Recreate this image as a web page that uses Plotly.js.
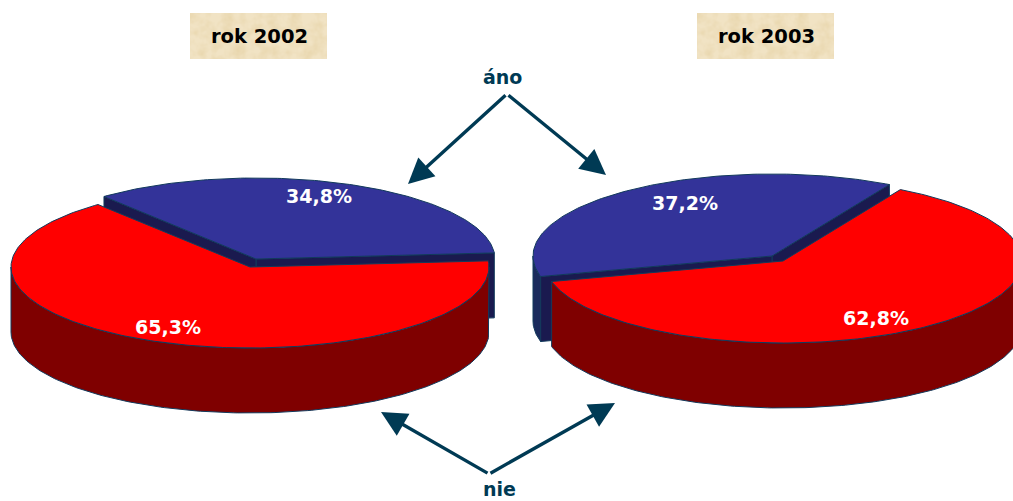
<!DOCTYPE html>
<html>
<head>
<meta charset="utf-8">
<script src="https://cdn.plot.ly/plotly-3.0.1.min.js"></script>
<style>html,body{margin:0;padding:0;background:#fff;overflow:hidden}#chart{width:1013px;height:501px}</style>
</head>
<body>
<div id="chart"></div>
<script>
// Data
var categories = ['áno', 'nie'];
var years = ['rok 2002', 'rok 2003'];
var share2002 = [34.8, 65.3];
var share2003 = [37.2, 62.8];

// Styles
var FONT = '"DejaVu Sans", sans-serif';
var INK = '#003a54';
var EDGE = '#123a5c';
var TOP = {'áno': '#333399', 'nie': '#ff0000'};
var WALL = {'áno': '#1a2a5c', 'nie': '#7f0000'};
var CUT = '#1a1a4f';

// Projection of each pie: a tilted disc (pixels on hidden axes)
var pies = [
  {values: share2002, startDeg: 129.5, rx: 239, ry: 81, depth: 65,
   centers: {'áno': [256, 259], 'nie': [250, 267]}},
  {values: share2003, startDeg: 194.5, rx: 239, ry: 82, depth: 65,
   centers: {'áno': [772, 256], 'nie': [783, 261]}}
];

function rim(c, p, deg, dy) {
  var t = deg * Math.PI / 180;
  return [c[0] + p.rx * Math.cos(t), c[1] - p.ry * Math.sin(t) + (dy || 0)];
}
function poly(pts, color, lineColor) {
  return {
    type: 'scatter', mode: 'lines', hoverinfo: 'skip', showlegend: false, fill: 'toself',
    x: pts.map(function (q) { return q[0]; }),
    y: pts.map(function (q) { return q[1]; }),
    fillcolor: color, line: {color: lineColor || EDGE, width: 1}
  };
}
function arc(c, p, a, b, dy) {
  var out = [], n = Math.max(2, Math.ceil(Math.abs(b - a)));
  for (var i = 0; i <= n; i++) out.push(rim(c, p, a + (b - a) * i / n, dy));
  return out;
}
// Outer wall: only the part of the rim turned towards the viewer (180..360 deg)
function wall(c, p, a, b) {
  var lo = Math.max(a, 180), hi = Math.min(b, 360);
  if (hi <= lo) return null;
  return arc(c, p, lo, hi, 0).concat(arc(c, p, hi, lo, p.depth));
}

var traces = [];
pies.forEach(function (p) {
  var total = p.values[0] + p.values[1];
  var blueSpan = 360 * p.values[0] / total;
  var redSpan = 360 * p.values[1] / total;
  var aEnd = p.startDeg, aStart = aEnd - blueSpan;          // "áno" slice
  var nStart = p.startDeg, nEnd = nStart + redSpan;         // "nie" slice
  var ca = p.centers['áno'], cn = p.centers['nie'];

  // "áno" slice: cut faces, wall, then top
  [aStart, aEnd].forEach(function (deg) {
    var r0 = rim(ca, p, deg), r1 = rim(ca, p, deg, p.depth);
    traces.push(poly([ca, r0, r1, [ca[0], ca[1] + p.depth], ca], CUT));
  });
  var wa = wall(ca, p, aStart, aEnd);
  if (wa) traces.push(poly(wa.concat([wa[0]]), WALL['áno']));
  traces.push(poly([ca].concat(arc(ca, p, aStart, aEnd, 0)).concat([ca]), TOP['áno']));

  // "nie" slice: wall, then top
  var wn = wall(cn, p, nStart, nEnd);
  if (wn) traces.push(poly(wn.concat([wn[0]]), WALL['nie']));
  traces.push(poly([cn].concat(arc(cn, p, nStart, nEnd, 0)).concat([cn]), TOP['nie']));
});

function pct(v) { return v.toFixed(1).replace('.', ',') + '%'; }
function txt(x, y, text, size, color) {
  return {x: x, y: y, xref: 'x', yref: 'y', text: '<b>' + text + '</b>', showarrow: false,
          xanchor: 'center', yanchor: 'middle', font: {family: FONT, size: size, color: color}};
}
function arrow(x0, y0, x1, y1) {
  return {x: x1, y: y1, ax: x0, ay: y0, xref: 'x', yref: 'y', axref: 'x', ayref: 'y', text: '',
          showarrow: true, arrowhead: 2, arrowsize: 1.5, arrowwidth: 3.4, arrowcolor: INK,
          standoff: 0, startstandoff: 0};
}

var annotations = [
  txt(259, 36, years[0], 19.5, '#000000'),
  txt(766, 36, years[1], 19.5, '#000000'),
  txt(502, 77, categories[0], 19, INK),
  txt(499, 489, categories[1], 19, INK),
  txt(319, 196, pct(share2002[0]), 19, '#ffffff'),
  txt(168, 327, pct(share2002[1]), 19, '#ffffff'),
  txt(685, 203, pct(share2003[0]), 19, '#ffffff'),
  txt(876, 318, pct(share2003[1]), 19, '#ffffff'),
  arrow(507, 94, 408, 184),
  arrow(507, 94, 606, 175),
  arrow(489, 474, 381, 412),
  arrow(489, 474, 615, 403)
];

// Decorative paper texture for the two year boxes (fixed seed, no data)
var paper = 'data:image/svg+xml,' + encodeURIComponent(
  '<svg xmlns="http://www.w3.org/2000/svg" width="137" height="46">' +
  '<filter id="n" x="0" y="0" width="100%" height="100%">' +
  '<feTurbulence type="fractalNoise" baseFrequency="0.09" numOctaves="3" seed="4"/>' +
  '<feColorMatrix values="0 0 0 0 0.80  0 0 0 0 0.66  0 0 0 0 0.40  1.6 0 0 0 -0.55"/></filter>' +
  '<rect width="137" height="46" fill="#f1e3c4"/>' +
  '<rect width="137" height="46" filter="url(#n)"/></svg>');
function box(x) {
  return {source: paper, xref: 'x', yref: 'y', x: x, y: 13, sizex: 137, sizey: 46,
          xanchor: 'left', yanchor: 'top', sizing: 'stretch', layer: 'below'};
}

var layout = {
  width: 1013, height: 501,
  margin: {l: 0, r: 0, t: 0, b: 0},
  paper_bgcolor: '#ffffff', plot_bgcolor: 'rgba(0,0,0,0)',
  showlegend: false,
  xaxis: {range: [0, 1013], visible: false, fixedrange: true},
  yaxis: {range: [501, 0], visible: false, fixedrange: true},
  shapes: [
    {type: 'rect', xref: 'x', yref: 'y', x0: 190, x1: 327, y0: 13, y1: 59, fillcolor: '#ecdab2', line: {width: 0}, layer: 'below'},
    {type: 'rect', xref: 'x', yref: 'y', x0: 697, x1: 834, y0: 13, y1: 59, fillcolor: '#ecdab2', line: {width: 0}, layer: 'below'}
  ],
  images: [box(190), box(697)],
  annotations: annotations
};
Plotly.newPlot('chart', traces, layout, {displayModeBar: false, staticPlot: true});
</script>
</body>
</html>
